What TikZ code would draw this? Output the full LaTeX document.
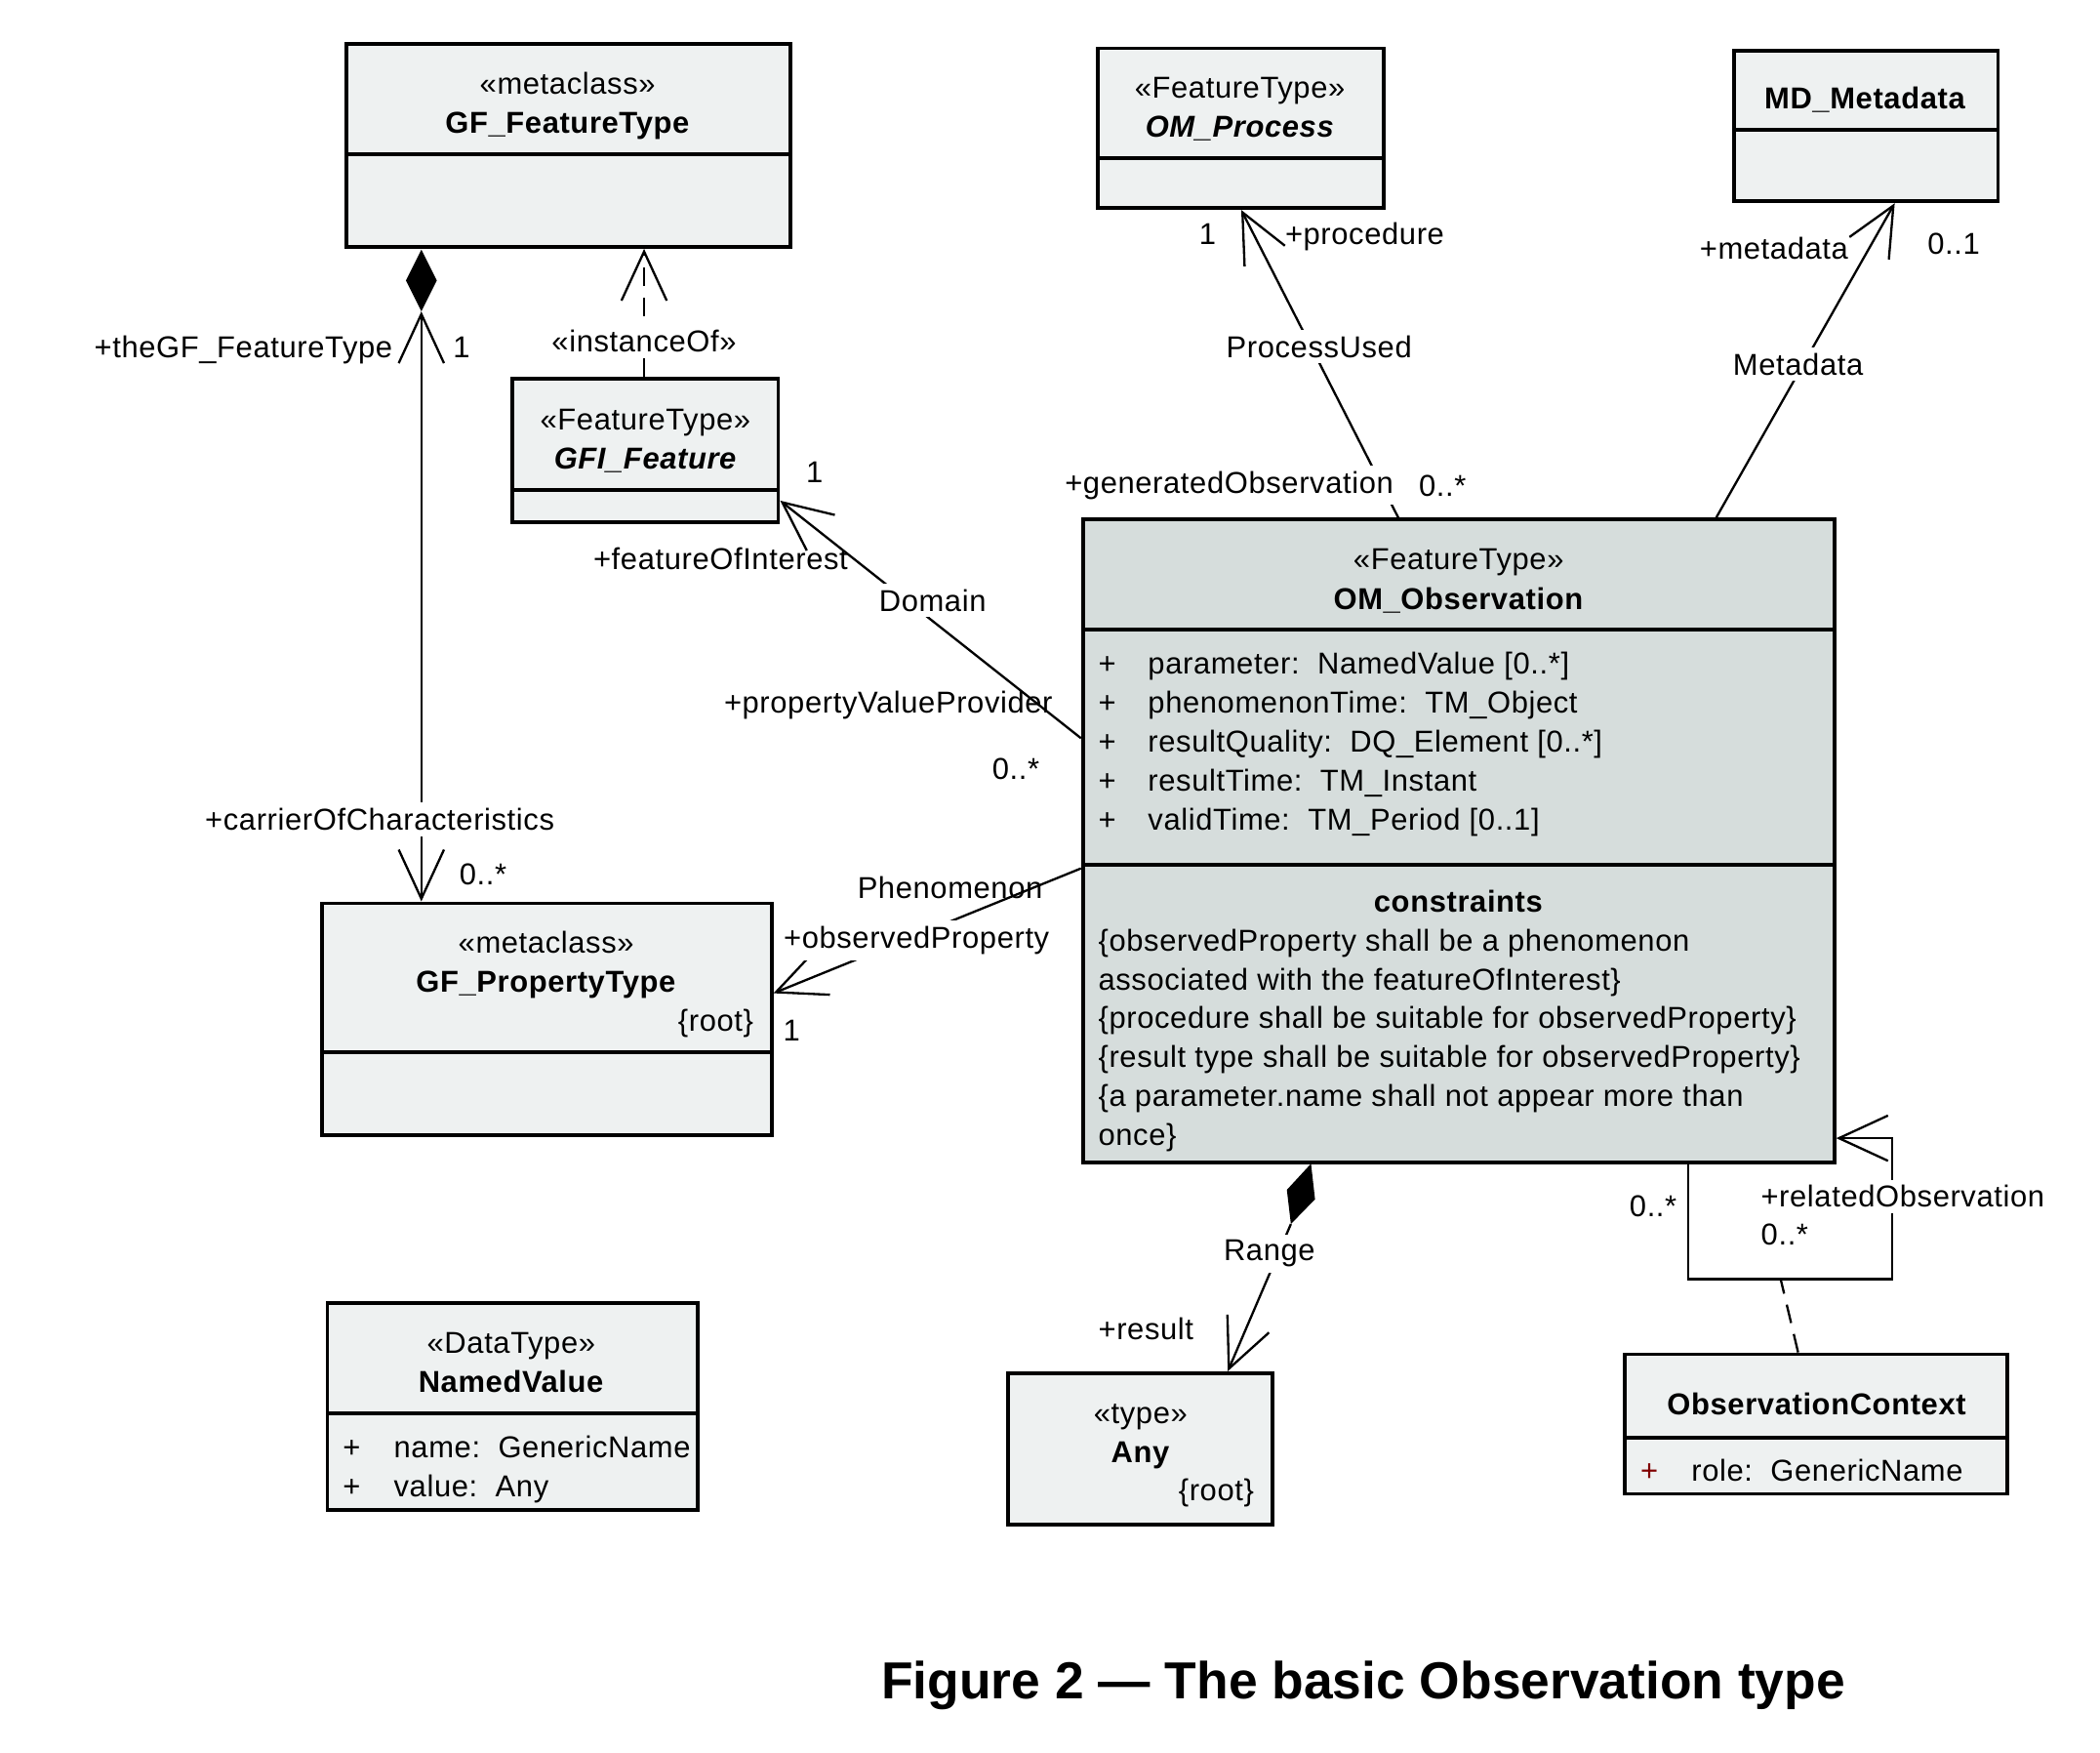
\documentclass[tikz,border=0pt]{standalone}
\usepackage{fontspec}
\setmainfont{Liberation Sans}[LetterSpace=2]
\newfontfamily\titlefont{Liberation Sans}
\usetikzlibrary{arrows.meta,fit}
\definecolor{cLight}{RGB}{238,241,241}
\definecolor{cDark}{RGB}{214,221,220}
\definecolor{cRed}{RGB}{128,0,0}
\begin{document}
\begin{tikzpicture}[x=0.0125cm,y=-0.0125cm,
  >={Straight Barb[length=13pt,width=12pt]},
  cls/.style={draw, line width=1pt, inner sep=0pt, fill=cLight},
  div/.style={line width=1pt},
  t/.style={font=\fontsize{8}{10.3}\selectfont, inner sep=0pt, anchor=mid},
  tw/.style={t, anchor=mid west},
  te/.style={t, anchor=mid east},
  lb/.style={t, fill=white, inner sep=1.5pt},
  ln/.style={line width=0.6pt},
  dsh/.style={dash pattern=on 5pt off 3pt}]
\useasboundingbox (0,0) rectangle (1565,1306);

% ---------- classes ----------
\node[cls, fit={(258,33) (589,184)}] (gft) {};
\draw[div] (258,115) -- (589,115);
\node[t] (gftS) at (423,63) {«metaclass»};
\node[t] (gftN) at (423,92) {\textbf{GF\_FeatureType}};

\node[cls, fit={(818,36) (1031,155)}] (proc) {};
\draw[div] (818,118) -- (1031,118);
\node[t] (procS) at (924,66) {«FeatureType»};
\node[t] (procN) at (924,95) {\textbf{\textit{OM\_Process}}};

\node[cls, fit={(1292,38) (1489,150)}] (md) {};
\draw[div] (1292,97) -- (1489,97);
\node[t] (mdN) at (1390,74) {\textbf{MD\_Metadata}};

\node[cls, fit={(382,282) (580,389)}] (gfi) {};
\draw[div] (382,365) -- (580,365);
\node[t] (gfiS) at (481,313) {«FeatureType»};
\node[t] (gfiN) at (481,342) {\textbf{\textit{GFI\_Feature}}};

\node[cls, fill=cDark, fit={(807,387) (1367,866)}] (obs) {};
\draw[div] (807,469) -- (1367,469);
\draw[div] (807,644) -- (1367,644);
\node[t] (obsS) at (1087,417) {«FeatureType»};
\node[t] (obsN) at (1087,447) {\textbf{OM\_Observation}};
\node[tw] (p1) at (818,495) {+};
\node[tw] (a1) at (855,495) {parameter:\ \ NamedValue [0..*]};
\node[tw] (p2) at (818,524) {+};
\node[tw] (a2) at (855,524) {phenomenonTime:\ \ TM\_Object};
\node[tw] (p3) at (818,553) {+};
\node[tw] (a3) at (855,553) {resultQuality:\ \ DQ\_Element [0..*]};
\node[tw] (p4) at (818,582) {+};
\node[tw] (a4) at (855,582) {resultTime:\ \ TM\_Instant};
\node[tw] (p5) at (818,611) {+};
\node[tw] (a5) at (855,611) {validTime:\ \ TM\_Period [0..1]};
\node[t] (cT) at (1087,672) {\textbf{constraints}};
\node[tw] (c1) at (818,701) {\{observedProperty shall be a phenomenon};
\node[tw] (c2) at (818,730) {associated with the featureOfInterest\}};
\node[tw] (c3) at (818,759) {\{procedure shall be suitable for observedProperty\}};
\node[tw] (c4) at (818,788) {\{result type shall be suitable for observedProperty\}};
\node[tw] (c5) at (818,817) {\{a parameter.name shall not appear more than};
\node[tw] (c6) at (818,846) {once\}};

\node[cls, fit={(240,673) (575,846)}] (gpt) {};
\draw[div] (240,784) -- (575,784);
\node[t] (gptS) at (407,703) {«metaclass»};
\node[t] (gptN) at (407,732) {\textbf{GF\_PropertyType}};
\node[te] (gptR) at (562,761) {\{root\}};

\node[cls, fit={(244,971) (520,1125)}] (nv) {};
\draw[div] (244,1053) -- (520,1053);
\node[t] (nvS) at (381,1001) {«DataType»};
\node[t] (nvN) at (381,1030) {\textbf{NamedValue}};
\node[tw] (nvp1) at (255,1079) {+};
\node[tw] (nva1) at (293,1079) {name:\ \ GenericName};
\node[tw] (nvp2) at (255,1108) {+};
\node[tw] (nva2) at (293,1108) {value:\ \ Any};

\node[cls, fit={(751,1023) (948,1136)}] (any) {};
\node[t] (anyS) at (850,1053) {«type»};
\node[t] (anyN) at (850,1082) {\textbf{Any}};
\node[te] (anyR) at (935,1111) {\{root\}};

\node[cls, fit={(1211,1009) (1496,1113)}] (ctx) {};
\draw[div] (1211,1071) -- (1496,1071);
\node[t] (ctxN) at (1354,1047) {\textbf{ObservationContext}};
\node[tw, text=cRed] (ctxp) at (1222,1096) {+};
\node[tw] (ctxa) at (1260,1096) {role:\ \ GenericName};

% ---------- connectors ----------
% composition GF_FeatureType <>- GF_PropertyType
\coordinate (dTop) at (314,186);
\coordinate (dBot) at (314,232);
\fill (dTop) -- (325.5,209) -- (dBot) -- (302.5,209) -- cycle;
\draw[ln,<->] (dBot) -- (gpt.north -| dBot);
\node[te] (l1) at (293,259) {+theGF\_FeatureType};
\node[t] (l2) at (344,259) {1};
\node[lb] (l3) at (283,611) {+carrierOfCharacteristics};
\node[t] (l4) at (360,652) {0..*};

% instanceOf
\coordinate (iX) at (480,0);
\draw[ln,dsh,->] (gfi.north -| iX) -- (gft.south -| iX);
\node[lb] (l5) at (480,255) {«instanceOf»};

% Domain
\coordinate (dmA) at (0,550);
\coordinate (dmB) at (0,373);
\draw[ln,->] (obs.west |- dmA) -- (gfi.east |- dmB);
\node[t] (l6) at (607,352) {1};
\node[t] (l7) at (537,417) {+featureOfInterest};
\node[lb] (l8) at (695,448) {Domain};
\node[t] (l9) at (662,524) {+propertyValueProvider};
\node[t] (l10) at (757,573) {0..*};

% Phenomenon
\coordinate (phA) at (0,647);
\coordinate (phB) at (0,740);
\draw[ln,->] (obs.west |- phA) -- (gpt.east |- phB);
\node[t] (l11) at (708,662) {Phenomenon};
\node[lb] (l12) at (683,699) {+observedProperty};
\node[t] (l13) at (590,768) {1};

% ProcessUsed
\coordinate (puA) at (1042,0);
\coordinate (puB) at (925,0);
\draw[ln,->] (obs.north -| puA) -- (proc.south -| puB);
\node[t] (l14) at (900,175) {1};
\node[t] (l15) at (1017,175) {+procedure};
\node[lb] (l16) at (983,259) {ProcessUsed};
\node[lb] (l17) at (916,360) {+generatedObservation};
\node[t] (l18) at (1075,362) {0..*};

% Metadata
\coordinate (mdA) at (1279,0);
\coordinate (mdB) at (1412,0);
\draw[ln,->] (obs.north -| mdA) -- (md.south -| mdB);
\node[t] (l19) at (1322,186) {+metadata};
\node[t] (l20) at (1456,182) {0..1};
\node[lb] (l21) at (1340,272) {Metadata};

% Range
\coordinate (rT) at (977,867);
\coordinate (rB) at (962,912);
\coordinate (rX) at (915,0);
\fill (rT) -- (980,893.5) -- (rB) -- (959,886.5) -- cycle;
\draw[ln,->] (rB) -- (any.north -| rX);
\node[lb] (l22) at (946,932) {Range};
\node[t] (l23) at (854,991) {+result};

% relatedObservation self loop
\coordinate (loA) at (1258,0);
\coordinate (loB) at (0,848);
\coordinate (loC) at (1258,953);
\coordinate (loD) at (1410,953);
\coordinate (loE) at (1410,848);
\draw[ln,->] (obs.south -| loA) -- (loC) -- (loD) -- (loE) -- (obs.east |- loB);
\node[t] (l24) at (1232,899) {0..*};
\node[lb] (l25) at (1418,892) {+relatedObservation};
\node[t] (l26) at (1330,920) {0..*};

% association class
\coordinate (acX) at (1340,0);
\coordinate (acP) at (1327,953);
\draw[ln,dsh] (ctx.north -| acX) -- (acP);

% ---------- title ----------
\node[inner sep=0pt, anchor=mid, font=\titlefont\fontsize{13.8}{16}\selectfont\bfseries] (title) at (1016,1258) {Figure 2 \textemdash{} The basic Observation type};
\end{tikzpicture}
\end{document}
